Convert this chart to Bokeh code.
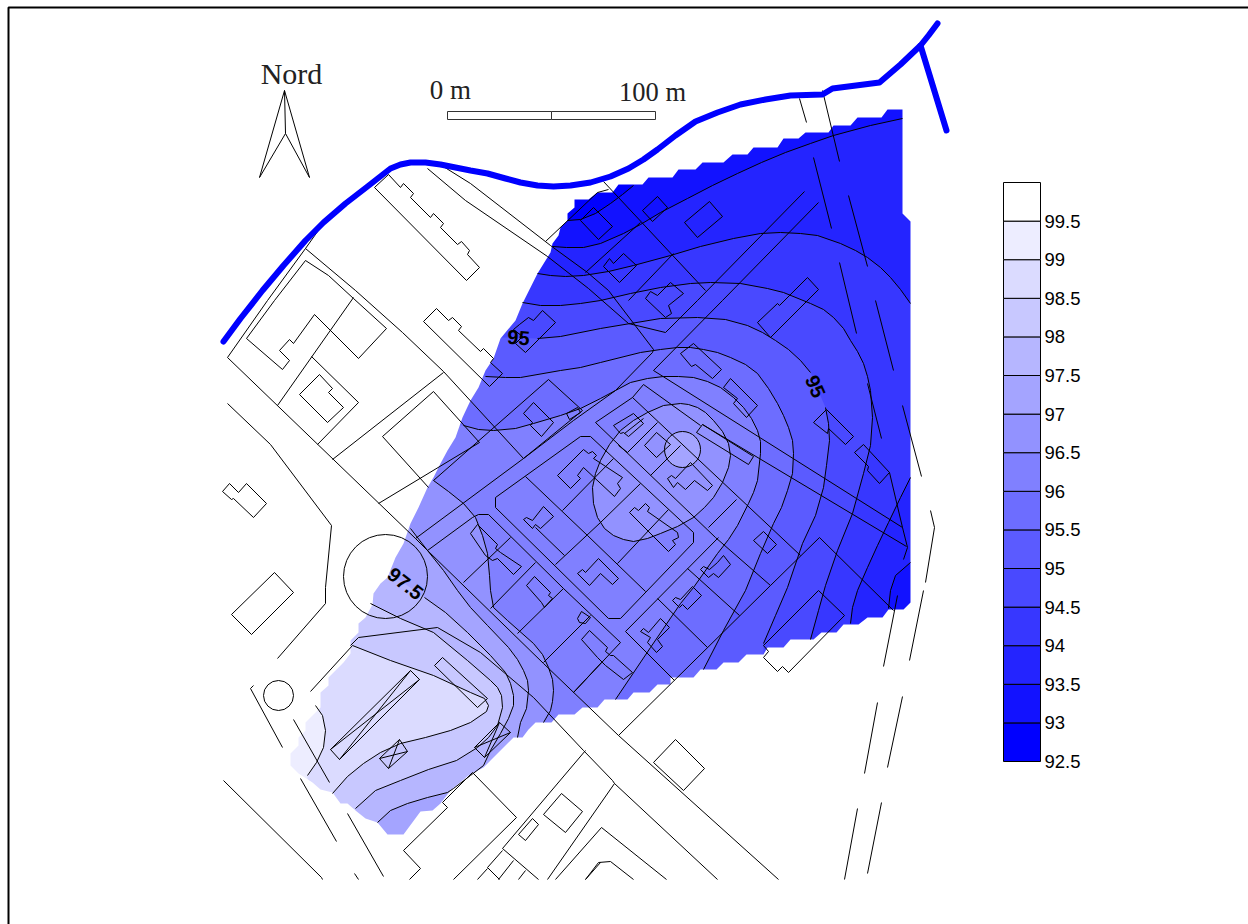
from bokeh.plotting import figure
from bokeh.models import Range1d
from bokeh.core.properties import value
from bokeh.embed import file_html
from bokeh.resources import INLINE

# ---- colour legend -------------------------------------------------------
LEVELS = [92.5, 93, 93.5, 94, 94.5, 95, 95.5, 96, 96.5, 97, 97.5, 98, 98.5, 99, 99.5, 100]
TICK_LABELS = ["92.5", "93", "93.5", "94", "94.5", "95", "95.5", "96", "96.5", "97", "97.5", "98", "98.5", "99", "99.5"]
TICK_VALUES = [92.5, 93, 93.5, 94, 94.5, 95, 95.5, 96, 96.5, 97, 97.5, 98, 98.5, 99, 99.5]

# ---- outline of the interpolated area -------------------------------------
FOOTPRINT = [(902,109),(887,109),(881,117),(857,117),(850,125),(833,125),(828,132),(805,132),(798,138),(783,138),
 (777,147),(753,147),(747,154),(732,154),(723,162),(702,162),(695,169),(678,169),(672,177),(648,177),(642,184),
 (618,184),(612,192),(597,192),(588,199),(574,199),(574,207),(567,213),(567,220),(560,227),(558,235),(552,243),
 (550,252),(537,273),(530,287),(522,303),(515,320),(500,338),(493,358),(485,370),(478,387),(470,400),(462,417),
 (455,437),(447,450),(440,463),(433,477),(427,487),(418,507),(410,523),(403,543),(395,557),(387,577),(380,583),
 (373,593),(372,604),(365,617),(358,623),(358,632),(350,640),(350,653),(343,662),(328,677),(328,685),(320,692),
 (320,707),(313,714),(305,722),(305,730),(298,737),(298,745),(290,753),(290,765),(298,773),(312,782),(320,789),
 (332,792),(340,803),(347,803),(355,810),(365,818),(377,822),(387,834),(403,834),(420,811),(432,810),(440,803),
 (450,790),(468,775),(483,767),(490,760),(513,737),(522,737),(528,729),(535,722),(551,722),(558,714),(574,714),
 (582,707),(597,707),(604,699),(627,699),(633,692),(649,692),(657,684),(670,684),(670,677),(693,677),(700,669),
 (716,669),(723,662),(738,662),(746,654),(763,654),(767,647),(783,647),(790,639),(813,639),(821,632),(836,632),
 (843,624),(858,624),(867,617),(882,617),(888,609),(903,609),(910,602),(910,221),(902,213)]

# ---- contour lines --------------------------------------------------------
C93 = [(567,220),(580,219),(595,213),(610,203),(622,194),(633,185)]
C93_5a = [(552,246),(566,247),(583,247),(600,243),(623,233),(640,224),(660,212),(687,198),(712,185),(737,173),(761,162),(785,152),(810,143),(833,135),(870,125),(902,118)]
C93_5b = [(910,562),(895,575),(890,590),(888,608)]
C94a = [(537,273),(550,275),(565,276),(583,275),(608,271),(633,265),(670,255),(700,246),(733,238),(760,233),(780,232),(800,233),(817,235),(840,243),(855,250),(867,257),(880,267),(890,277),(900,289),(910,303)]
C94b = [(910,477),(900,497),(888,522),(877,545),(867,567),(857,590),(852,607),(850,623)]
C94_5 = [(522,302),(540,305),(560,305),(580,303),(600,300),(630,293),(660,287),(690,283),(710,282),(740,283),(767,288),(783,292),(810,303),(823,309),(833,317),(843,328),(850,340),(857,351),(863,363),(867,376),(870,390),(872,417),(870,445),(863,473),(852,513),(837,550),(825,585),(818,610),(810,639)]
C95a = [(507,337)]
C95b = [(537,338),(560,336),(600,328),(630,323),(660,318),(697,317),(725,319),(747,325),(762,332),(775,340),(788,349),(800,360),(810,372)]
C95c = [(825,407),(828,423),(829,440),(826,465),(823,487),(815,515),(802,543),(787,587),(775,615),(763,643)]
C95_5 = [(485,376),(505,377),(520,377),(560,370),(580,367),(600,362),(640,352),(660,349),(677,347),(690,347),(703,349),(717,352),(730,357),(745,364),(757,373),(768,388),(777,403),(783,415),(788,427),(792,440),(793,453),(792,473),(787,490),(781,507),(773,523),(760,553),(745,590),(723,630),(703,669)]
C96 = [(463,425),(478,429),(493,430),(515,428),(533,423),(560,415),(580,408),(600,398),(615,390),(630,382),(647,378),(663,376),(678,376),(693,377),(707,381),(720,387),(733,397),(743,407),(751,418),(757,430),(760,441),(760,453),(757,480),(753,492),(748,503),(737,525),(728,539),(717,553),(693,587),(680,603),(650,647),(615,699)]
C96_5a = [(433,480),(448,491),(463,503),(475,517),(482,535),(487,553),(489,575),(490,590),(493,607),(507,620),(533,643),(542,654),(548,667),(552,679),(553,690),(552,701),(550,710),(543,722)]
C96_5b = [(680,403),(663,405),(647,412),(633,420),(620,430),(609,444),(600,460),(595,473),(592,487),(593,503),(597,517),(604,528),(613,535),(623,539),(633,541),(647,538),(660,533),(677,526),(693,517),(704,507),(713,497),(722,482),(728,467),(730,455),(728,443),(722,431),(713,420),(705,412),(697,407),(688,404),(680,403)]
C97 = [(410,528),(427,550),(443,570),(457,590),(470,607),(487,625),(508,647),(517,659),(523,670),(527,680),(528,690),(526,708),(520,722),(517,737)]
C97_PEAK = [(682, 449, 18)]
C97_5a = [(385,570)]
C97_5b = [(424,597),(445,612),(467,632),(490,655),(505,672),(510,683),(513,695),(513,705),(508,718),(500,733),(490,750),(483,765),(470,775),(453,788),(447,792),(427,797),(407,803),(390,810),(377,822)]
C98 = [(370,603),(400,618),(433,632),(467,660),(490,680),(497,687),(501,695),(502,707),(497,725),(488,737),(477,747),(456,760),(428,769),(400,780),(375,790),(355,808)]
C98_5 = [(352,645),(390,660),(433,675),(470,692),(484,698),(488,705),(486,711),(470,722),(450,730),(425,737),(400,743),(380,752),(363,763),(347,776),(332,793)]
C99 = [(315,705),(322,715),(325,730),(323,747),(316,762),(307,775)]

CONTOUR_LINES = [C93, C93_5a, C93_5b, C94a, C94b, C94_5, C95b, C95c, C95_5, C96, C96_5a, C96_5b, C97, C97_5b, C98, C98_5, C99]

CONTOUR_LABELS = ["95", "95", "97.5"]
LABEL_X = [518, 815, 405]
LABEL_Y = [337, 386, 583]
LABEL_ANGLE = [-5, -66, -38]

# ---- river ---------------------------------------------------------------
RIVER = [(223,341),(240,318),(262,290),(283,265),(305,240),(323,222),(345,203),(367,186),(390,168),(400,164),(410,162),
 (425,162),(440,164),(470,170),(487,173),(505,178),(520,182),(537,185),(553,186),(570,185),(590,182),(610,176),(628,168),
 (643,159),(657,149),(675,135),(695,121),(717,112),(740,104),(765,99),(790,95),(822,94),(832,88),(879,82),(900,64),
 (920,45),(928,35),(937,23)]
RIVER_BRANCH = [(920,45),(946,130)]

# ---- cadastral map: roads, parcels (open) -----------------------------------
ROADS = [
 [(227,357),(415,538),(427,550),(543,663),(618,735),(778,879)],
 [(227,403),(270,444),(331,525),(325,587),(325,603),(277,658)],
 [(327,217),(305,248),(267,300),(227,357)],
 [(305,248),(355,290),(402,332),(443,371),(523,458)],
 [(353,297),(277,405)],
 [(311,356),(358,402),(317,444)],
 [(332,459),(443,372)],
 [(382,436),(433,391),(479,442),(378,503)],
 [(382,436),(428,487)],
 [(415,538),(523,458),(573,420),(615,390),(652,352),(653,349),(608,290),(587,272),(550,245),(470,183),(438,163)],
 [(427,168),(465,200),(547,256),(588,288),(628,323),(665,332),(697,300),(804,191)],
 [(548,379),(582,410),(523,458)],
 [(548,379),(433,480)],
 [(545,241),(597,192),(608,189)],
 [(603,181),(705,290)],
 [(585,272),(640,222)],
 [(628,300),(673,253)],
 [(818,202),(722,300),(653,370),(902,527)],
 [(702,424),(906,546)],
 [(889,472),(902,527),(907,547),(903,559)],
 [(595,422),(632,397),(643,384),(700,425)],
 [(632,397),(800,555)],
 [(595,422),(715,537),(770,585)],
 [(718,537),(625,631),(674,680)],
 [(657,598),(707,647)],
 [(687,568),(739,615)],
 [(618,735),(770,585),(819,537),(893,610)],
 [(627,452),(657,422)],
 [(618,445),(627,452)],
 [(650,475),(680,445)],
 [(708,527),(736,499)],
 [(624,433),(643,418)],
 [(427,550),(472,517),(478,514),(488,514),(563,588),(620,642),(573,692)],
 [(463,582),(510,537)],
 [(490,608),(535,562)],
 [(517,633),(563,588)],
 [(543,662),(590,615)],
 [(601,662),(573,692)],
 [(350,645),(358,637),(437,627),(480,652),(533,697),(583,750),(612,780),(614,783),(717,879)],
 [(585,750),(502,848)],
 [(502,848),(538,879)],
 [(547,879),(614,783)],
 [(555,879),(601,827),(666,879)],
 [(585,879),(598,862),(610,861),(633,879)],
 [(310,691),(352,645)],
 [(253,685),(250,688),(282,747)],
 [(293,719),(329,782)],
 [(300,778),(336,841)],
 [(223,780),(321,877),(322,879)],
 [(347,813),(383,876)],
 [(354,873),(358,879)],
 [(442,802),(447,807),(403,850),(420,868),(409,879)],
 [(442,802),(472,772),(516,817),(453,879)],
 [(487,867),(502,850)],
 [(487,867),(499,879)],
 [(513,860),(498,879)],
 [(525,870),(518,879)],
 [(477,879),(487,868)],
 [(585,879),(600,862)],
 [(799,98),(806,122)],
 [(822,90),(839,161)],
 [(813,157),(831,228)],
 [(848,195),(867,266)],
 [(839,262),(856,333)],
 [(875,300),(893,370)],
 [(867,383),(881,438)],
 [(902,405),(921,476)],
 [(930,510),(934,527),(925,582)],
 [(897,595),(883,666)],
 [(923,590),(909,660)],
 [(877,702),(864,773)],
 [(902,696),(887,767)],
 [(857,808),(844,879)],
 [(881,802),(867,873)],
 [(525,476),(587,535),(645,591)],
 [(562,510),(613,458)],
 [(555,564),(600,522),(640,483)],
 [(617,563),(668,509)],
 [(535,527),(564,555)],
]

# ---- cadastral map: closed shapes (buildings, plots) -------------------------
BUILDINGS = [
 [(374,187),(388,174),(400,187),(403,183),(413,193),(410,197),(430,217),(433,213),(443,223),(440,227),(457,244),(461,241),(469,250),(467,254),(479,267),(466,280)],
 [(274,300),(246,338),(282,369),(289,360),(279,350),(289,339),(293,343),(314,314),(358,358),(386,328),(353,298),(328,275),(305,260)],
 [(299,394),(319,374),(332,388),(328,392),(343,407),(327,422)],
 [(423,321),(436,308),(448,320),(452,317),(461,326),(458,330),(480,351),(483,348),(493,358),(490,362),(502,373),(489,386)],
 [(222,491),(229,483),(238,492),(246,483),(266,503),(253,517),(233,498),(231,499)],
 [(523,413),(533,402),(553,422),(541,436),(530,425),(532,422)],
 [(566,413),(577,407),(580,412),(569,419)],
 [(519,324),(528,317),(533,320),(542,310),(555,322),(525,352),(515,343),(522,336),(513,329)],
 [(580,220),(593,207),(612,226),(598,239)],
 [(642,210),(657,196),(667,207),(652,221)],
 [(684,222),(709,201),(722,216),(697,237)],
 [(603,266),(609,258),(613,263),(623,253),(636,265),(619,282)],
 [(757,322),(777,303),(779,305),(807,277),(818,289),(770,337)],
 [(645,298),(650,291),(657,295),(670,282),(683,293),(668,305),(671,313),(665,317)],
 [(813,422),(826,409),(853,436),(845,444),(828,428),(827,433)],
 [(854,452),(863,444),(889,472),(879,483),(867,470),(868,466)],
 [(702,424),(753,456),(748,464),(696,432)],
 [(495,497),(580,436),(590,436),(693,532),(693,542),(620,618),(608,618),(495,507)],
 [(557,475),(583,449),(588,453),(592,451),(596,455),(593,458),(622,477),(617,483),(620,488),(614,496),(583,467),(577,475),(580,478),(570,488)],
 [(523,519),(526,517),(532,520),(543,506),(553,516),(540,528),(535,524),(532,528)],
 [(629,512),(634,507),(638,510),(645,503),(649,507),(647,511),(677,532),(678,537),(672,540),(675,544),(668,551)],
 [(577,573),(582,569),(585,572),(598,558),(618,578),(612,584),(600,573),(589,585)],
 [(526,585),(534,576),(550,592),(548,595),(552,598),(544,607),(541,602)],
 [(577,618),(581,611),(590,617),(585,623),(579,622)],
 [(640,631),(643,628),(648,632),(660,618),(669,627),(657,639),(662,646),(656,652),(647,642),(650,637)],
 [(672,600),(675,597),(680,599),(692,586),(701,595),(687,609),(682,604),(679,607)],
 [(700,569),(703,566),(709,569),(717,562),(723,555),(730,564),(718,577),(713,573),(708,577)],
 [(581,639),(589,630),(607,647),(605,651),(610,655),(613,655),(632,672),(623,679),(605,665),(597,657)],
 [(680,353),(693,343),(721,369),(712,378),(695,364),(691,366)],
 [(723,387),(730,378),(757,405),(746,417),(733,403),(737,398)],
 [(644,445),(656,432),(670,444),(656,457)],
 [(667,478),(671,475),(675,478),(690,462),(712,485),(707,490),(694,480),(685,489),(677,482),(673,487)],
 [(613,425),(633,413),(643,423),(628,436),(623,432),(620,433)],
 [(753,540),(763,531),(776,544),(767,553)],
 [(470,533),(477,524),(497,544),(495,548),(500,552),(521,566),(513,574),(497,558),(492,560),(485,555)],
 [(844,615),(818,590),(763,645),(768,651),(763,657),(777,671),(782,666),(788,672)],
 [(653,762),(675,739),(704,768),(683,790)],
 [(274,572),(231,614),(251,634),(293,592)],
 [(330,749),(410,670),(419,679),(339,759)],
 [(434,665),(442,657),(487,698),(477,707)],
 [(379,758),(399,739),(407,751),(388,768)],
 [(474,747),(499,722),(510,732),(484,757)],
 [(543,814),(561,793),(582,811),(565,832)],
 [(518,834),(532,818),(538,824),(525,840)],
]
BOX_CROSSES = [
 [(330,749),(419,679)], [(339,759),(410,670)],
 [(379,758),(407,751)], [(399,739),(388,768)],
 [(474,747),(510,732)], [(499,722),(484,757)],
]
MAP_CIRCLES = [(385, 576, 42), (278, 695, 15)]

# ---- north arrow and scale bar ---------------------------------------------
NORTH_ARROW = [(284,90),(259,177),(285,133),(309,177),(284,90),(285,133)]
SCALE_BARS = [(447, 551, 111, 119), (551, 655, 111, 119)]
MAP_TEXT = ["Nord", "0 m", "100 m"]
MAP_TEXT_X = [291, 450, 652]
MAP_TEXT_Y = [73, 89, 91]
MAP_TEXT_SIZE = ["30px", "27px", "26.5px"]


def band_colour(i):
    v = round(i * 255 / 14)
    return f"#{v:02x}{v:02x}ff"


def xy(pts):
    return [p[0] for p in pts], [p[1] for p in pts]


def region(curve):
    """Area on the high-value (south-west) side of a contour running across the map."""
    start, end = curve[0], curve[-1]
    return curve + [(end[0], 950), (150, 950), (150, start[1])]


p = figure(width=1248, height=924, x_range=Range1d(0, 1248), y_range=Range1d(924, 0),
           output_backend="svg", toolbar_location=None, min_border=0)
p.axis.visible = False
p.grid.visible = False
p.xaxis.visible = False
p.yaxis.visible = False
p.outline_line_color = None
p.background_fill_color = "white"
p.border_fill_color = "white"

# filled bands, painted from the lowest value to the highest
p.patch(*xy([(150, 40), (985, 40), (985, 950), (150, 950)]), fill_color=band_colour(1), line_color=None)
p.patch(*xy(C93 + [(633, 150), (540, 150), (540, 220)]), fill_color=band_colour(0), line_color=None)
FILLS = [
 (2, region(C93_5a + [(960, 118), (960, 562)] + C93_5b)),
 (3, region(C94a + [(960, 303), (960, 477)] + C94b)),
 (4, region(C94_5)),
 (5, region(C95a + C95b + C95c)),
 (6, region(C95_5)),
 (7, region(C96)),
 (8, region(C96_5a)),
 (8, C96_5b),
 (9, region(C97)),
 (10, region(C97_5a + C97_5b)),
 (11, region(C98)),
 (12, region(C98_5)),
 (13, region(C99)),
]
for idx, pts in FILLS:
    p.patch(*xy(pts), fill_color=band_colour(idx), line_color=None)
p.circle(x=[C97_PEAK[0][0]], y=[C97_PEAK[0][1]], radius=C97_PEAK[0][2], fill_color=band_colour(9), line_color=None)

# white mask outside the interpolated area
fx, fy = xy(FOOTPRINT)
p.multi_polygons(xs=[[[[100, 1000, 1000, 100], fx]]], ys=[[[[20, 20, 960, 960], fy]]],
                 fill_color="white", line_color=None)

# contours
p.multi_line([xy(c)[0] for c in CONTOUR_LINES], [xy(c)[1] for c in CONTOUR_LINES], line_color="black", line_width=1)
p.circle(x=[C97_PEAK[0][0]], y=[C97_PEAK[0][1]], radius=C97_PEAK[0][2], fill_color=None, line_color="black", line_width=1)

# map linework
closed = [b + [b[0]] for b in BUILDINGS]
p.multi_line([xy(c)[0] for c in ROADS], [xy(c)[1] for c in ROADS], line_color="black", line_width=1)
p.multi_line([xy(c)[0] for c in closed], [xy(c)[1] for c in closed], line_color="black", line_width=1)
p.multi_line([xy(c)[0] for c in BOX_CROSSES], [xy(c)[1] for c in BOX_CROSSES], line_color="black", line_width=1)
p.circle(x=[c[0] for c in MAP_CIRCLES], y=[c[1] for c in MAP_CIRCLES], radius=[c[2] for c in MAP_CIRCLES],
         fill_color=None, line_color="black", line_width=1)

# river
p.line(*xy(RIVER), line_color="#0000ff", line_width=6, line_cap="round", line_join="round")
p.line(*xy(RIVER_BRANCH), line_color="#0000ff", line_width=6, line_cap="round")

# contour labels
p.text(x=LABEL_X, y=LABEL_Y, text=CONTOUR_LABELS, angle=LABEL_ANGLE, angle_units="deg",
       text_font=value("Liberation Sans"), text_font_size="20px", text_font_style="bold",
       text_align="center", text_baseline="middle", text_color="black")

# north arrow, scale bar, their texts
p.line(*xy(NORTH_ARROW), line_color="black", line_width=1)
p.quad(left=[b[0] for b in SCALE_BARS], right=[b[1] for b in SCALE_BARS],
       top=[b[2] for b in SCALE_BARS], bottom=[b[3] for b in SCALE_BARS],
       fill_color="white", line_color="#333333", line_width=1)
for t, tx, ty, ts in zip(MAP_TEXT, MAP_TEXT_X, MAP_TEXT_Y, MAP_TEXT_SIZE):
    p.text(x=[tx], y=[ty], text=[t], text_font=value("Liberation Serif"),
           text_font_size=value(ts), text_align="center", text_baseline="middle", text_color="#222222")

# colour bar on its own value scale
PX_PER_UNIT = 77.2
p.extra_y_ranges = {"legend": Range1d(92.5 - (924 - 761) / PX_PER_UNIT, 92.5 + 761 / PX_PER_UNIT)}
p.quad(left=[1003] * (len(LEVELS) - 1), right=[1040] * (len(LEVELS) - 1),
       bottom=LEVELS[:-1], top=LEVELS[1:], y_range_name="legend",
       fill_color=[band_colour(i) for i in range(len(LEVELS) - 1)], line_color="black", line_width=1)
p.text(x=[1044] * len(TICK_LABELS), y=TICK_VALUES, text=TICK_LABELS, y_range_name="legend",
       text_font=value("Liberation Sans"), text_font_size="18.5px", text_align="left", text_baseline="middle",
       text_color="black")

# page frame (left and top edges)
p.line(x=[8, 8, 1248], y=[924, 7, 7], line_color="black", line_width=2)

open("out.html", "w").write(file_html(p, INLINE))
